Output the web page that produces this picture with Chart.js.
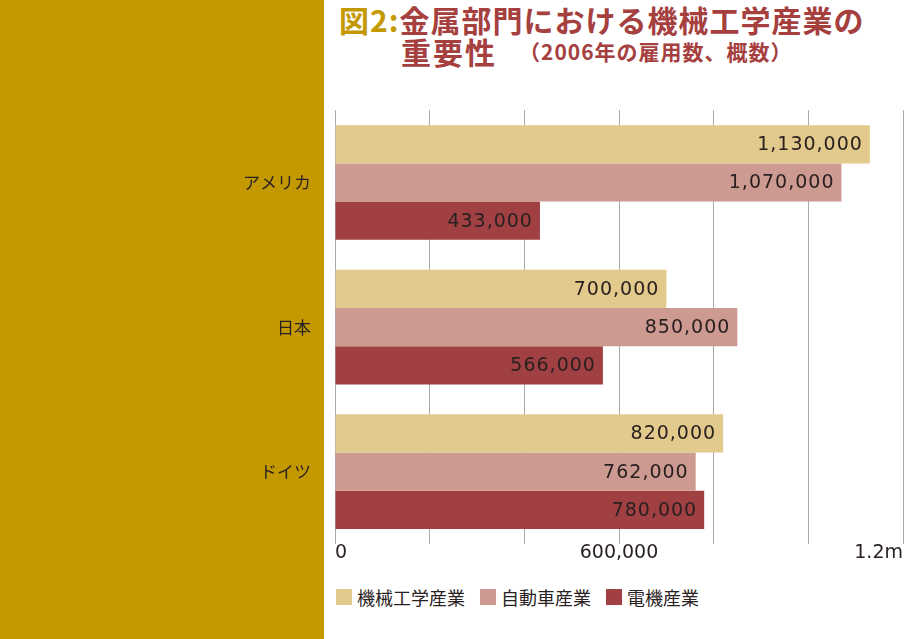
<!DOCTYPE html>
<html>
<head>
<meta charset="utf-8">
<script src="https://cdn.jsdelivr.net/npm/chart.js@4"></script>
<style>
    body { margin: 0; width: 910px; height: 639px; overflow: hidden; background: #fff; font-family: "Noto Sans CJK JP", sans-serif; }
    #panel { position: absolute; left: 0; top: 0; width: 324px; height: 639px; background: #c49900; }
    .title { position: absolute; font-weight: bold; color: #a5403f; line-height: 1; white-space: nowrap; }
    #t1 { left: 339px; top: 4px; font-size: 30px; letter-spacing: 1px; }
    #t2 { left: 401px; top: 36px; font-size: 30px; letter-spacing: 2px; }
    #t3 { left: 519px; top: 41px; font-size: 21px; letter-spacing: 1px; }
    .gold { color: #c49900; }
    #wrap { position: absolute; left: 0; top: 84px; width: 910px; height: 492px; }
    #legend { position: absolute; left: 336px; top: 584px; display: flex; font-size: 18px; color: #2a2222; }
    #legend span.item { display: flex; align-items: center; margin-right: 15px; }
    #legend span.box { width: 16px; height: 16px; margin-right: 5px; display: inline-block; }
</style>
</head>
<body>
<div id="panel"></div>
<div class="title" id="t1"><span class="gold">図2:</span>金属部門における機械工学産業の</div>
<div class="title" id="t2">重要性</div>
<div class="title" id="t3">（2006年の雇用数、概数）</div>
<div id="wrap"><canvas id="chart"></canvas></div>
<div id="legend"></div>

<script>
const countries = ["アメリカ", "日本", "ドイツ"]
const seriesNames = ["機械工学産業", "自動車産業", "電機産業"]
const mechanical = [1130000, 700000, 820000]
const automotive = [1070000, 850000, 762000]
const electrical = [433000, 566000, 780000]
const seriesColors = ["#e1ca8b", "#cc9a91", "#a04043"]
const tickLabels = { 0: "0", 600000: "600,000", 1200000: "1.2m" }

// value labels drawn inside the end of each bar
const barValues = {
    id: "barValues",
    afterDatasetsDraw(chart) {
        const ctx = chart.ctx
        ctx.save()
        ctx.font = "19px 'DejaVu Sans'"
        ctx.letterSpacing = "1px"
        ctx.fillStyle = "#2a2020"
        ctx.textAlign = "right"
        ctx.textBaseline = "middle"
        chart.data.datasets.forEach((ds, i) => {
            chart.getDatasetMeta(i).data.forEach((bar, j) => {
                ctx.fillText(ds.data[j].toLocaleString("en-US"), bar.x - 7, bar.y + 1)
            })
        })
        ctx.restore()
    }
}

function drawLegend() {
    const legend = document.getElementById("legend")
    seriesNames.forEach((name, i) => {
        legend.innerHTML += `<span class="item"><span class="box" style="background:${seriesColors[i]}"></span>${name}</span>`
    })
}

function drawChart() {
    const ctx = document.getElementById("chart").getContext("2d")
    const allSeries = [mechanical, automotive, electrical]

    new Chart(ctx, {
        type: "bar",
        data: {
            labels: countries,
            datasets: allSeries.map((values, i) => ({
                label: seriesNames[i],
                data: values,
                backgroundColor: seriesColors[i],
                categoryPercentage: 0.793,
                barPercentage: 1
            }))
        },
        options: {
            indexAxis: "y",
            responsive: true,
            maintainAspectRatio: false,
            animation: false,
            layout: { padding: { top: 17, right: 7 } },
            plugins: {
                legend: { display: false },
                tooltip: { enabled: false }
            },
            scales: {
                x: {
                    min: 0,
                    max: 1200000,
                    afterFit(scale) { scale.height = 32 },
                    ticks: {
                        stepSize: 200000,
                        autoSkip: false,
                        maxRotation: 0,
                        align: "inner",
                        padding: 0,
                        color: "#2a2222",
                        font: { family: "DejaVu Sans", size: 19, lineHeight: 1 },
                        callback: (v) => tickLabels[v] ?? ""
                    },
                    grid: { color: "#aaaaaa", drawTicks: false },
                    border: { display: false }
                },
                y: {
                    afterFit(scale) { scale.width = 335 },
                    ticks: {
                        padding: 16,
                        color: "#2a2222",
                        font: { family: "Noto Sans CJK JP", size: 17 }
                    },
                    grid: { display: false },
                    border: { display: false }
                }
            }
        },
        plugins: [barValues]
    })
}

drawLegend()
drawChart()
</script>
</body>
</html>
